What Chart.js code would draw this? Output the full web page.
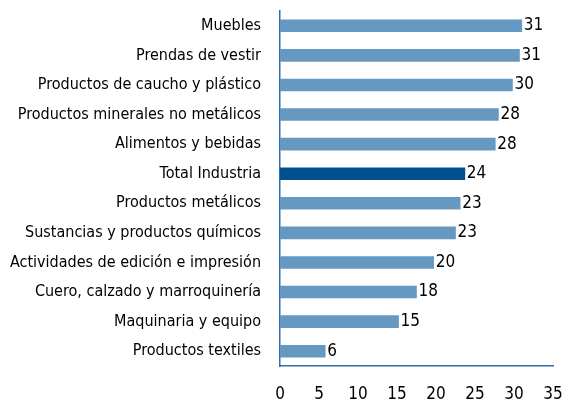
<!DOCTYPE html>
<html>
<head>
<meta charset="utf-8">
<script src="https://cdn.jsdelivr.net/npm/chart.js@4"></script>
<style>
  html, body { margin: 0; padding: 0; background: #fff; }
  #wrap { width: 563px; height: 400px; }
</style>
</head>
<body>
<div id="wrap"><canvas id="chart"></canvas></div>
<script>
const categories = [
    'Muebles',
    'Prendas de vestir',
    'Productos de caucho y plástico',
    'Productos minerales no metálicos',
    'Alimentos y bebidas',
    'Total Industria',
    'Productos metálicos',
    'Sustancias y productos químicos',
    'Actividades de edición e impresión',
    'Cuero, calzado y marroquinería',
    'Maquinaria y equipo',
    'Productos textiles'
];
const values = [31.0, 30.7, 29.8, 28.0, 27.6, 23.7, 23.1, 22.5, 19.7, 17.5, 15.2, 5.8];
const valueLabels = ['31', '31', '30', '28', '28', '24', '23', '23', '20', '18', '15', '6'];
const xTicks = [0, 5, 10, 15, 20, 25, 30, 35];
const highlight = 'Total Industria';

const FONT = '"DejaVu Sans Condensed", "DejaVu Sans", sans-serif';
const light = '#6699c2';
const dark = '#00508f';
const axisColor = '#2f6fae';

// draw the numbers at the end of each bar
const endLabels = {
    id: 'endLabels',
    afterDatasetsDraw(chart) {
        const ctx = chart.ctx;
        const meta = chart.getDatasetMeta(0);
        ctx.save();
        ctx.font = '17px ' + FONT;
        ctx.fillStyle = '#000';
        ctx.textAlign = 'left';
        ctx.textBaseline = 'middle';
        meta.data.forEach((bar, i) => {
            ctx.fillText(valueLabels[i], bar.x + 2, bar.y);
        });
        ctx.restore();
    }
};

new Chart(document.getElementById('chart'), {
    type: 'bar',
    data: {
        labels: categories,
        datasets: [{
            data: values,
            backgroundColor: categories.map(c => c === highlight ? dark : light),
            barThickness: 12,
            borderWidth: 0
        }]
    },
    options: {
        indexAxis: 'y',
        responsive: true,
        maintainAspectRatio: false,
        animation: false,
        layout: { padding: { top: 11, right: 10, left: 0, bottom: 0 } },
        plugins: {
            legend: { display: false },
            tooltip: { enabled: false }
        },
        scales: {
            x: {
                min: 0,
                max: 35,
                afterBuildTicks: s => { s.ticks = xTicks.map(v => ({ value: v })); },
                afterFit: s => { s.height = 34; s.paddingLeft = 0; s.paddingRight = 0; },
                grid: { display: false, drawTicks: false },
                border: { display: true, color: axisColor, width: 1.5 },
                ticks: { color: '#000', padding: 18, font: { family: FONT, size: 17 } }
            },
            y: {
                afterFit: s => { s.width = 280; s.paddingTop = 0; s.paddingBottom = 0; },
                grid: { display: false, drawTicks: false },
                border: { display: true, color: axisColor, width: 1.5 },
                ticks: { color: '#000', padding: 19, font: { family: FONT, size: 16 } }
            }
        }
    },
    plugins: [endLabels]
});
</script>
</body>
</html>
